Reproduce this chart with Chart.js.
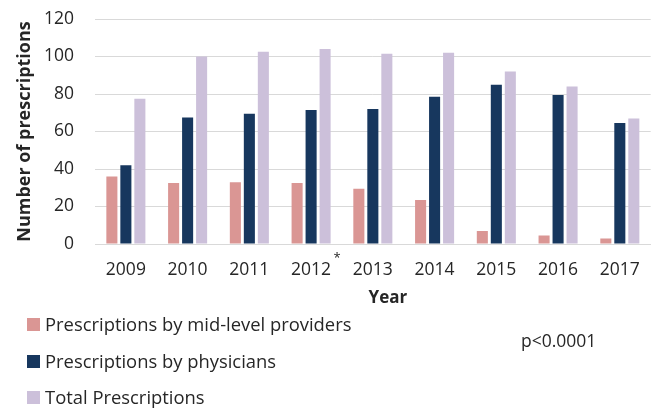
<!DOCTYPE html>
<html>
<head>
<meta charset="utf-8">
<script src="https://cdn.jsdelivr.net/npm/chart.js@4/dist/chart.umd.min.js"></script>
<style>
    html, body { margin: 0; padding: 0; background: #fff; }
    #wrap { position: relative; width: 656px; height: 408px; font-family: 'Open Sans', sans-serif; color: #262626; }
    #chart { position: absolute; left: 0; top: 0; }
    .legend-row { position: absolute; left: 27px; display: flex; align-items: center; font-size: 18.4px; line-height: 22px; white-space: nowrap; }
    .legend-row span.box { display: inline-block; width: 13px; height: 13px; margin-right: 5px; }
    #pval { position: absolute; left: 521px; top: 328px; font-size: 17.5px; line-height: 24px; }
</style>
</head>
<body>
<div id="wrap">
    <canvas id="chart" width="656" height="408"></canvas>
    <div id="legend"></div>
    <div id="pval">p&lt;0.0001</div>
</div>
<script>
// ========= DATA =========
const years = ['2009', '2010', '2011', '2012', '2013', '2014', '2015', '2016', '2017'];
const midLevel = [36, 32.5, 33, 32.5, 29.5, 23.5, 7, 4.5, 3];
const physicians = [42, 67.5, 69.5, 71.5, 72, 78.5, 85, 79.5, 64.5];
const totals = [77.5, 100, 102.5, 104, 101.5, 102, 92, 84, 67];
const yTicks = [0, 20, 40, 60, 80, 100, 120];

const seriesNames = ['Prescriptions by mid-level providers', 'Prescriptions by physicians', 'Total Prescriptions'];
const seriesColors = ['#DA9694', '#17375E', '#CCC0DA'];

const FONT = "'Open Sans', sans-serif";
const TEXT = '#262626';

// x axis title (sits a bit right of centre) and the asterisk next to 2012
const axisNotes = {
    id: 'axisNotes',
    afterDraw(chart) {
        const x = chart.scales.x;
        const c = chart.ctx;
        c.save();
        c.fillStyle = TEXT;
        c.textAlign = 'center';
        c.textBaseline = 'middle';
        c.font = 'bold 17px ' + FONT;
        c.fillText('Year', (x.left + x.right) / 2 + 15, x.top + 54);
        c.font = '13px ' + FONT;
        c.fillText('*', x.getPixelForValue(3) + 26, x.top + 14);
        c.restore();
    }
};

const datasets = [midLevel, physicians, totals].map((data, i) => ({
    label: seriesNames[i],
    data,
    backgroundColor: seriesColors[i],
    borderWidth: 0,
    categoryPercentage: 0.68,
    barPercentage: 0.79
}));

new Chart(document.getElementById('chart'), {
    type: 'bar',
    data: { labels: years, datasets },
    options: {
        responsive: false,
        animation: false,
        layout: { padding: { top: 19, right: 3, bottom: 94, left: 0 } },
        plugins: { legend: { display: false }, tooltip: { enabled: false } },
        scales: {
            x: {
                grid: { display: false, drawTicks: false },
                border: { display: true, color: '#d9d9d9' },
                ticks: { color: TEXT, font: { family: FONT, size: 17.5 }, padding: 16 },
                afterFit: s => { s.height = 70; }
            },
            y: {
                min: 0, max: 120,
                afterBuildTicks: s => { s.ticks = yTicks.map(v => ({ value: v })); },
                grid: { color: '#d9d9d9', drawTicks: false },
                border: { display: false },
                ticks: { color: TEXT, font: { family: FONT, size: 17.5 }, padding: 21 },
                title: {
                    display: true, text: 'Number of prescriptions', color: TEXT,
                    font: { family: FONT, size: 18, weight: 'bold' },
                    padding: { top: 14, bottom: 0 }
                },
                afterFit: s => {
                    s.width = 95;
                    s.paddingTop = 0;
                    s.paddingBottom = 0;
                }
            }
        }
    },
    plugins: [axisNotes]
});

// ========= LEGEND =========
const legend = document.getElementById('legend');
const rowCenters = [325, 362, 398];
seriesNames.forEach((name, i) => {
    const row = document.createElement('div');
    row.className = 'legend-row';
    row.style.top = (rowCenters[i] - 12) + 'px';
    row.innerHTML = `<span class="box" style="background:${seriesColors[i]}"></span>${name}`;
    legend.appendChild(row);
});
</script>
</body>
</html>
